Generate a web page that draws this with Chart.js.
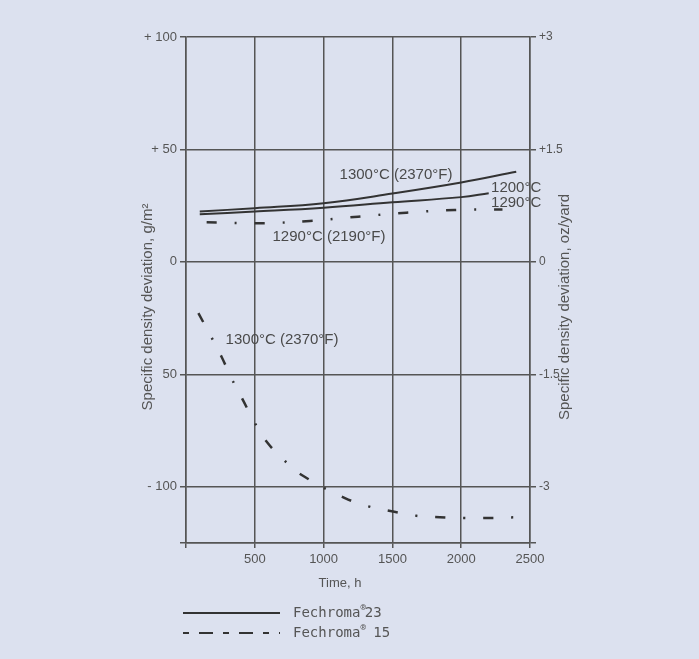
<!DOCTYPE html>
<html><head><meta charset="utf-8">
<script src="https://cdn.jsdelivr.net/npm/chart.js@4"></script>
<style>html,body{margin:0;padding:0;background:#dce1ef;overflow:hidden}#wrap{width:699px;height:659px}</style>
</head><body><div id="wrap"><canvas id="c" width="699" height="659"></canvas></div>
<script>
// ---- data ----
const xTickValues = [0, 500, 1000, 1500, 2000, 2500];
const xTickLabels = ['', '500', '1000', '1500', '2000', '2500'];
const leftTickValues = [100, 50, 0, -50, -100, -125];
const leftTickLabels = ['+ 100', '+ 50', '0', '50', '- 100', ''];
const rightTickValues = [3, 1.5, 0, -1.5, -3, -3.75];
const rightTickLabels = ['+3', '+1.5', '0', '-1.5', '-3', ''];

// Fechroma 23
const f23_1300_t = [100, 500, 1000, 1500, 2000, 2400];
const f23_1300_v = [22.4, 23.9, 26.1, 30.4, 35.3, 40.1];
const f23_1200_t = [100, 500, 1000, 1500, 2000, 2200];
const f23_1200_v = [21.2, 22.4, 24.1, 26.5, 28.8, 30.5];
// Fechroma 15
const f15_1290_t = [150, 550, 900, 1250, 1600, 1950, 2300];
const f15_1290_v = [17.6, 17.2, 18.2, 20.1, 21.9, 23.1, 23.3];
const f15_1300_t = [90, 175, 260, 330, 415, 495, 585, 710, 850, 1155, 1325, 1505, 1675, 1845, 2025, 2200, 2380];
const f15_1300_v = [-22.8, -32.4, -42.4, -51.7, -61.6, -71, -79.9, -88, -95.1, -105, -108.7, -111, -112.9, -113.5, -113.9, -113.9, -113.6];

const labels = [
  {text: '1300°C (2370°F)', t: 1526, v: 38.7, align: 'center'},
  {text: '1200°C', t: 2217, v: 32.9, align: 'left'},
  {text: '1290°C', t: 2217, v: 26.2, align: 'left'},
  {text: '1290°C (2190°F)', t: 1039, v: 11.1, align: 'center'},
  {text: '1300°C (2370°F)', t: 698, v: -34.7, align: 'center'}
];
const legendNames = ['Fechroma', 'Fechroma'];
const legendSuffix = ['23', ' 15'];

function pts(t, v) { return t.map((x, i) => ({x: x, y: v[i]})); }

const INK = '#333';
const GRID = '#555';
const TXT = '#4a4a4a';
const dashPat = [10, 18, 2, 18];

const overlay = {
  id: 'overlay',
  afterDatasetsDraw(chart) {
    const ctx = chart.ctx, xs = chart.scales.x, ys = chart.scales.y;
    ctx.save();
    ctx.fillStyle = TXT;
    ctx.textBaseline = 'middle';
    ctx.font = '15px "Liberation Sans", Arial, sans-serif';
    labels.forEach(l => {
      ctx.textAlign = l.align;
      ctx.fillText(l.text, xs.getPixelForValue(l.t), ys.getPixelForValue(l.v));
    });
    // axis titles
    ctx.font = '15px "Liberation Sans", Arial, sans-serif';
    ctx.fillStyle = '#555';
    ctx.textAlign = 'center';
    const midY = (chart.chartArea.top + chart.chartArea.bottom) / 2 + 17;
    [[148, 'Specific density deviation, g/m²'], [565, 'Specific density deviation, oz/yard']].forEach(([x, s]) => {
      ctx.save();
      ctx.translate(x, midY);
      ctx.rotate(-Math.PI / 2);
      ctx.fillText(s, 0, 0);
      ctx.restore();
    });
    ctx.font = '13px "Liberation Sans", Arial, sans-serif';
    ctx.fillText('Time, h', 340, 583);
    // legend
    const lx0 = 183, lx1 = 280, ly = [613, 633];
    ctx.strokeStyle = INK; ctx.lineWidth = 2;
    ctx.beginPath(); ctx.moveTo(lx0, ly[0]); ctx.lineTo(lx1, ly[0]); ctx.stroke();
    ctx.setLineDash([6, 10, 14, 10]);
    ctx.beginPath(); ctx.moveTo(lx0, ly[1]); ctx.lineTo(lx1, ly[1]); ctx.stroke();
    ctx.setLineDash([]);
    ctx.fillStyle = '#555';
    ctx.textAlign = 'left';
    legendNames.forEach((n, i) => {
      ctx.font = '14px "DejaVu Sans Mono", monospace';
      let x = 293;
      ctx.fillText(n, x, ly[i]);
      x += ctx.measureText(n).width;
      ctx.font = '9px "DejaVu Sans Mono", monospace';
      ctx.fillText('®', x, ly[i] - 5);
      x += ctx.measureText('®').width - 1;
      ctx.font = '14px "DejaVu Sans Mono", monospace';
      ctx.fillText(legendSuffix[i], x, ly[i]);
    });
    ctx.restore();
  }
};

const tickFont = {family: '"Liberation Sans", Arial, sans-serif', size: 13};

new Chart(document.getElementById('c'), {
  type: 'line',
  data: {
    datasets: [
      {label: 'Fechroma 23 1300', data: pts(f23_1300_t, f23_1300_v), borderColor: INK, borderWidth: 2, pointRadius: 0, tension: 0.4, fill: false},
      {label: 'Fechroma 23 1200', data: pts(f23_1200_t, f23_1200_v), borderColor: INK, borderWidth: 2, pointRadius: 0, tension: 0.4, fill: false},
      {label: 'Fechroma 15 1290', data: pts(f15_1290_t, f15_1290_v), borderColor: INK, borderWidth: 2.5, borderDash: dashPat, pointRadius: 0, tension: 0.4, fill: false},
      {label: 'Fechroma 15 1300', data: pts(f15_1300_t, f15_1300_v), borderColor: INK, borderWidth: 2.5, borderDash: dashPat, pointRadius: 0, tension: 0.4, fill: false}
    ]
  },
  options: {
    responsive: false,
    animation: false,
    devicePixelRatio: 1,
    layout: {padding: {left: 0, right: 0, top: 37, bottom: 0}},
    plugins: {legend: {display: false}, tooltip: {enabled: false}},
    scales: {
      x: {
        type: 'linear', position: 'bottom', min: 0, max: 2500,
        afterBuildTicks: s => { s.ticks = xTickValues.map(v => ({value: v})); },
        afterFit: s => { s.height = 116; },
        ticks: {font: tickFont, color: '#555', padding: 4, maxRotation: 0, autoSkip: false,
          callback: (v, i) => xTickLabels[i]},
        grid: {color: GRID, lineWidth: 1.5, tickLength: 5},
        border: {color: GRID, width: 1.5}
      },
      y: {
        type: 'linear', position: 'left', min: -125, max: 100,
        afterBuildTicks: s => { s.ticks = leftTickValues.map(v => ({value: v})); },
        afterFit: s => { s.width = 186; },
        ticks: {font: tickFont, color: '#555', padding: 3, autoSkip: false,
          callback: (v, i) => leftTickLabels[i]},
        grid: {color: GRID, lineWidth: 1.5, tickLength: 6},
        border: {color: GRID, width: 1.5}
      },
      y2: {
        type: 'linear', position: 'right', min: -3.75, max: 3,
        afterBuildTicks: s => { s.ticks = rightTickValues.map(v => ({value: v})); },
        afterFit: s => { s.width = 169; },
        ticks: {font: {family: tickFont.family, size: 12}, color: '#555', padding: 3, autoSkip: false,
          callback: (v, i) => rightTickLabels[i]},
        grid: {color: GRID, lineWidth: 1.5, tickLength: 6, drawOnChartArea: false},
        border: {color: GRID, width: 1.5}
      }
    }
  },
  plugins: [overlay]
});
</script>
</body></html>
